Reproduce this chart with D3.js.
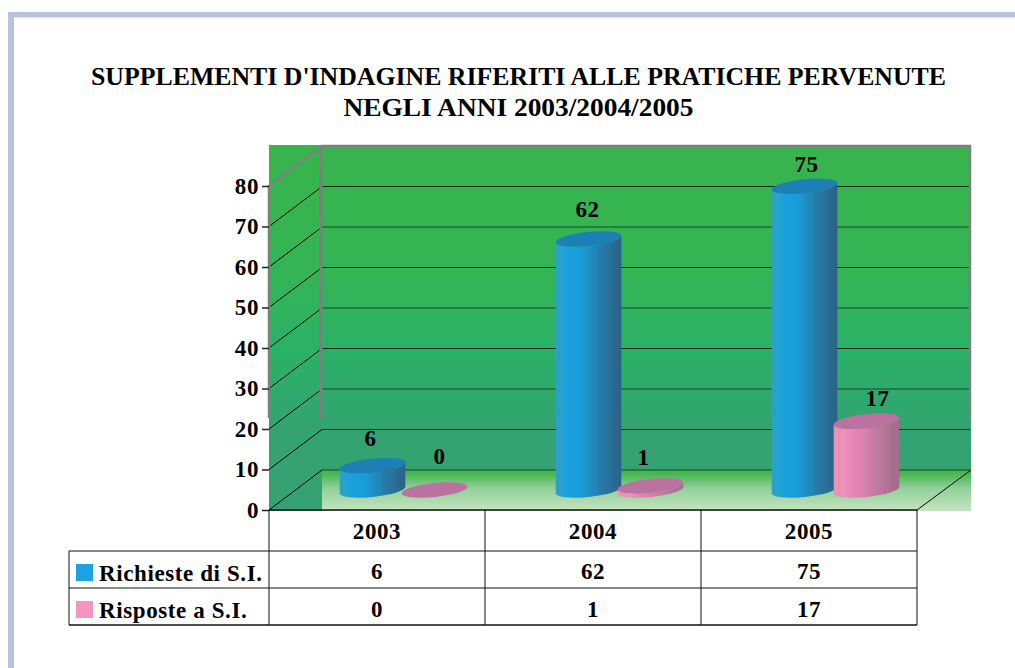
<!DOCTYPE html>
<html>
<head lang="en">
	<meta charset="UTF-8">
	<title>Supplementi d'indagine</title>
	<script src="https://cdn.jsdelivr.net/npm/d3@7/dist/d3.min.js"></script>
	<style type="text/css">
		html, body { margin: 0; padding: 0; background: #fff; overflow: hidden; }
		svg { display: block; }
		text { font-family: "Liberation Serif", serif; font-weight: bold; fill: #000; }
	</style>
</head>
<body>
	<svg width="1015" height="668" version="1.1" xmlns="http://www.w3.org/2000/svg"></svg>
	<script type="text/javascript">
		var years = ['2003', '2004', '2005'];
		var seriesNames = ['Richieste di S.I.', 'Risposte a S.I.'];
		var richieste = [6, 62, 75];
		var risposte = [0, 1, 17];
		var yTicks = [0, 10, 20, 30, 40, 50, 60, 70, 80];
		var titleLines = ["SUPPLEMENTI D'INDAGINE RIFERITI ALLE PRATICHE PERVENUTE", 'NEGLI ANNI 2003/2004/2005'];

		var seriesValues = [richieste, risposte];
		var depthX = 53, depthY = -40;
		var left = 269, right = 917, bottom = 510;
		var textSize = 23, textSpacing = 0.6;

		var svg = d3.select('svg');
		var x = d3.scaleBand().domain(years).range([left, right]);
		var xInner = d3.scaleBand().domain([0, 1]).range([-62, 62]);
		var y = d3.scaleLinear().domain([0, 80]).range([bottom, 186]);

		// page frame
		svg.append('rect').attr('x', 8).attr('y', 12).attr('width', 1007).attr('height', 5.5).attr('fill', '#b8c2e0');
		svg.append('rect').attr('x', 8).attr('y', 12).attr('width', 6).attr('height', 656).attr('fill', '#b8c2e0');

		// title
		var titleWidth = [855, 350];
		svg.selectAll('.title').data(titleLines).enter().append('text')
			.attr('class', 'title')
			.attr('x', 518.5)
			.attr('y', function (d, i) { return 85 + i * 31; })
			.attr('text-anchor', 'middle')
			.attr('font-size', 26)
			.attr('textLength', function (d, i) { return titleWidth[i]; })
			.attr('lengthAdjust', 'spacingAndGlyphs')
			.text(function (d) { return d; });

		var defs = svg.append('defs');

		function addGradient(id, vertical, stops) {
			var g = defs.append('linearGradient').attr('id', id)
				.attr('x1', 0).attr('y1', 0)
				.attr('x2', vertical ? 0 : 1).attr('y2', vertical ? 1 : 0);
			g.selectAll('stop').data(stops).enter().append('stop')
				.attr('offset', function (d) { return d[0]; })
				.attr('stop-color', function (d) { return d[1]; });
		}

		addGradient('wall', true, [[0, '#38b44c'], [0.35, '#34b455'], [0.55, '#2ab266'], [0.78, '#33a371'], [1, '#37a173']]);
		addGradient('floor', true, [[0, '#3fb54a'], [0.12, '#4db856'], [0.45, '#93d09a'], [1, '#c5e4c0']]);
		addGradient('bodyBlue', false, [
			[0, '#2ba1c9'], [0.06, '#23a2d0'], [0.07, '#2ca3c4'], [0.13, '#1ca2da'], [0.3, '#17a0de'],
			[0.48, '#1c95cf'], [0.5, '#2a8fb8'], [0.51, '#1c8fc8'], [0.6, '#1d86bb'], [0.61, '#2c84a8'],
			[0.68, '#1e7cb0'], [0.69, '#2f7b9c'], [0.78, '#2074a4'], [0.79, '#2f7396'], [0.87, '#226c9a'],
			[0.88, '#30698a'], [1, '#27628b']]);
		addGradient('bodyPink', false, [
			[0, '#ea8fb6'], [0.06, '#f092bd'], [0.07, '#e58fb2'], [0.15, '#f191bf'], [0.3, '#e586b5'],
			[0.48, '#db7fb0'], [0.5, '#c987a6'], [0.51, '#d67cab'], [0.62, '#cb78a5'], [0.63, '#b9809c'],
			[0.75, '#bf74a0'], [0.76, '#ac7a94'], [0.88, '#b26d95'], [0.89, '#a4718c'], [1, '#a8698d']]);

		// walls and floor
		svg.append('rect').attr('x', left).attr('y', 145).attr('width', 702).attr('height', 366).attr('fill', 'url(#wall)');
		svg.append('rect').attr('x', left + depthX).attr('y', bottom + depthY).attr('width', 649).attr('height', 41).attr('fill', 'url(#floor)');

		// grid lines on side and back wall
		var gridTicks = yTicks.slice(0, -1);
		svg.selectAll('.side').data(gridTicks).enter().append('line')
			.attr('x1', left).attr('y1', function (d) { return y(d); })
			.attr('x2', left + depthX).attr('y2', function (d) { return y(d) + depthY; })
			.attr('stroke', '#000').attr('stroke-width', 1);
		svg.selectAll('.back').data(gridTicks).enter().append('line')
			.attr('x1', left + depthX).attr('y1', function (d) { return y(d) + depthY; })
			.attr('x2', 970).attr('y2', function (d) { return y(d) + depthY; })
			.attr('stroke', function (d, i) { return i % 2 ? '#0c2a18' : '#14492c'; }).attr('stroke-width', 1);
		svg.append('line').attr('x1', right).attr('y1', bottom).attr('x2', 971).attr('y2', bottom + depthY)
			.attr('stroke', '#000').attr('stroke-width', 1);

		// grey frame of the walls
		var frame = d3.line();
		svg.append('path')
			.attr('d', frame([[left, 418], [left, y(80)], [left + depthX, y(80) + depthY], [970, y(80) + depthY], [970, 418]]))
			.attr('fill', 'none').attr('stroke', '#7f7f7f').attr('stroke-width', 2.5);
		svg.append('line').attr('x1', left + depthX - 1).attr('y1', 145).attr('x2', left + depthX - 1).attr('y2', 419)
			.attr('stroke', '#7f7f7f').attr('stroke-width', 3);

		// y axis
		var yAxis = d3.axisLeft(y).tickValues(yTicks).tickSize(7).tickPadding(3);
		var yG = svg.append('g').attr('transform', 'translate(' + left + ',0)').call(yAxis);
		yG.select('.domain').remove();
		yG.selectAll('line').attr('stroke', '#222').attr('stroke-width', 1.5);
		yG.selectAll('text').attr('font-family', null).style('font-size', textSize + 'px').style('letter-spacing', textSpacing + 'px');

		// cylinders
		var rx = 33, ry = 7, tilt = -6;
		var dx = rx * Math.cos(tilt * Math.PI / 180), dy = rx * Math.sin(tilt * Math.PI / 180);
		var bodyFill = ['url(#bodyBlue)', 'url(#bodyPink)'];
		var topFill = ['#1c80b6', '#bb72a0'];

		function cylX(si, yi) { return x(years[yi]) + x.bandwidth() / 2 + xInner(si) + xInner.bandwidth() / 2 + depthX / 2; }
		function cylY(v) { return y(v) + depthY / 2; }

		seriesValues.forEach(function (vals, si) {
			var g = svg.append('g');
			vals.forEach(function (v, yi) {
				var cx = cylX(si, yi), yTop = cylY(v), yBase = cylY(0);
				if (v > 0) {
					g.append('path')
						.attr('d', 'M' + (cx - dx) + ',' + (yTop - dy) +
							'L' + (cx - dx) + ',' + (yBase - dy) +
							'A' + rx + ',' + ry + ',' + tilt + ',0,0,' + (cx + dx) + ',' + (yBase + dy) +
							'L' + (cx + dx) + ',' + (yTop + dy) +
							'A' + rx + ',' + ry + ',' + tilt + ',0,1,' + (cx - dx) + ',' + (yTop - dy) + 'Z')
						.attr('fill', bodyFill[si]);
				}
				g.append('ellipse')
					.attr('rx', rx).attr('ry', ry)
					.attr('transform', 'translate(' + cx + ',' + yTop + ') rotate(' + tilt + ')')
					.attr('fill', topFill[si]);
			});
		});

		// value labels, nudged one by one like the original
		var labelNudge = [[[-2, -28], [-1, -30], [2, -22]], [[5, -34], [-7, -29], [11, -23]]];
		seriesValues.forEach(function (vals, si) {
			svg.selectAll('.val' + si).data(vals).enter().append('text')
				.attr('x', function (d, i) { return cylX(si, i) + labelNudge[si][i][0]; })
				.attr('y', function (d, i) { return cylY(d) + labelNudge[si][i][1]; })
				.attr('dy', '0.35em')
				.attr('text-anchor', 'middle')
				.attr('font-size', textSize)
				.style('letter-spacing', textSpacing + 'px')
				.text(function (d) { return d; });
		});

		// data table
		var rowY = [bottom, 551, 588, 625];
		var tableX = 69;
		rowY.forEach(function (py, i) {
			svg.append('line').attr('x1', i ? tableX : left).attr('y1', py).attr('x2', right).attr('y2', py)
				.attr('stroke', '#111').attr('stroke-width', (i === 0 || i === 3) ? 1.5 : 1);
		});
		x.domain().concat(['end']).forEach(function (yr) {
			var px = yr === 'end' ? right : x(yr);
			svg.append('line').attr('x1', px).attr('y1', bottom).attr('x2', px).attr('y2', 625)
				.attr('stroke', '#111').attr('stroke-width', 1);
		});
		svg.append('line').attr('x1', tableX).attr('y1', 551).attr('x2', tableX).attr('y2', 625)
			.attr('stroke', '#111').attr('stroke-width', 1);

		var rowText = [years, richieste, risposte];
		var rowCentre = [531, 571, 609];
		rowText.forEach(function (row, r) {
			svg.selectAll('.cell' + r).data(row).enter().append('text')
				.attr('x', function (d, i) { return x(years[i]) + x.bandwidth() / 2; })
				.attr('y', rowCentre[r])
				.attr('dy', '0.35em')
				.attr('text-anchor', 'middle')
				.attr('font-size', textSize)
				.style('letter-spacing', textSpacing + 'px')
				.text(function (d) { return d; });
		});

		// legend cells
		var swatch = ['#1ba3e0', '#f295c1'];
		seriesNames.forEach(function (name, i) {
			svg.append('rect').attr('x', 76).attr('y', rowY[i + 1] + 13).attr('width', 17).attr('height', 17).attr('fill', swatch[i]);
			svg.append('text').attr('x', 99).attr('y', rowY[i + 1] + 30)
				.attr('font-size', textSize)
				.style('letter-spacing', textSpacing + 'px')
				.text(name);
		});
	</script>
</body>
</html>
